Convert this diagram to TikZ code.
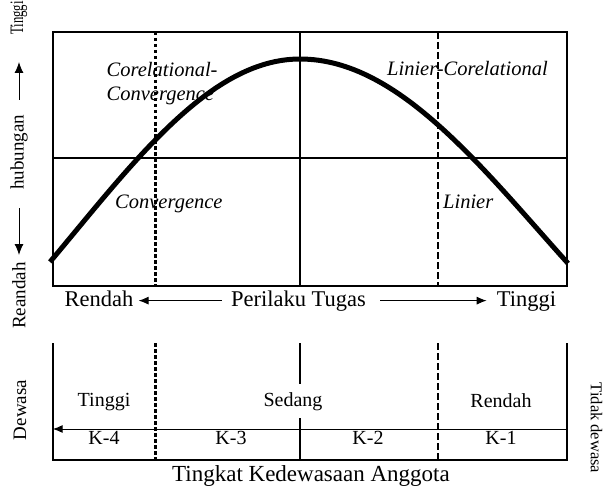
\documentclass[tikz,border=0pt]{standalone}
\usepackage{fontspec}
\setmainfont{Liberation Serif}
\usetikzlibrary{arrows.meta, positioning}
\tikzset{
	frame/.style={line width=2pt},
	midline/.style={line width=1.6pt},
	dotline/.style={line width=3pt, dash pattern=on 3.5pt off 2.5pt},
	dashline/.style={line width=1.4pt, dash pattern=on 7pt off 3pt},
	bell/.style={line width=5pt},
	zone/.style={inner sep=0pt, align=left, font=\fontsize{20.5}{24}\selectfont\itshape},
	rowlbl/.style={inner sep=0pt, font=\fontsize{22.5}{26}\selectfont},
	grplbl/.style={inner sep=0pt, font=\fontsize{20}{24}\selectfont},
	sidelbl/.style={inner sep=0pt, font=\fontsize{19}{23}\selectfont},
	arrow/.style={-{Latex[length=10pt, width=8pt]}, line width=1pt},
	bigarrow/.style={-{Latex[length=11pt, width=9pt]}, line width=1pt},
}
\begin{document}
\begin{tikzpicture}[x=1pt, y=-1pt]
	\useasboundingbox (0,0) rectangle (603,487);
	% upper chart
	\draw[frame] (52.7,32) rectangle (567,286);
	\draw[midline] (52.7,158) -- (567,158);
	\draw[midline] (300,32) -- (300,286);
	\draw[dotline] (155.5,32) -- (155.5,286);
	\draw[dashline] (438,32) -- (438,286);
	\draw[bell] plot[domain=50:300, samples=60] (\x, {59+172.9*(1-cos(0.4*(\x-300)))});
	\draw[bell] plot[domain=300:568, samples=60] (\x, {59+172.9*(1-cos(0.375*(\x-300)))});
	\node[zone, anchor=north west] (corconv) at (106.5,62) {Corelational-\\Convergence};
	\node[zone, anchor=base west] (conv) at (115,208) {Convergence};
	\node[zone, anchor=base west] (lincor) at (387,76) {Linier-Corelational};
	\node[zone, anchor=base west] (lin) at (443,208) {Linier};
	% task behaviour axis
	\node[rowlbl, anchor=base] (tugas) at (298.5,306) {Perilaku Tugas};
	\node[rowlbl, anchor=base] (lowP) at (99,306) {Rendah};
	\node[rowlbl, anchor=base] (highP) at (526.5,306) {Tinggi};
	\draw[arrow, shorten <=9pt, shorten >=5pt] (tugas.west) -- (tugas.west -| lowP.east);
	\draw[arrow, shorten <=14pt, shorten >=10pt] (tugas.east) -- (tugas.east -| highP.west);
	% relation axis
	\node[sidelbl, rotate=90] (hub) at (19,152.5) {hubungan};
	\node[sidelbl, rotate=90, anchor=west] (highH) at (19,35) {\scalebox{0.67}[1]{Tinggi}};
	\node[sidelbl, rotate=90, anchor=east] (lowH) at (19,262) {Reandah};
	\draw[bigarrow, shorten <=15pt, shorten >=27pt] (hub.east) -- (highH.west);
	\draw[bigarrow, shorten <=18pt, shorten >=7pt] (hub.west) -- (lowH.east);
	% lower chart
	\draw[frame] (52.7,343) -- (52.7,460) -- (567,460) -- (567,343);
	\draw[dotline] (155.5,343) -- (155.5,460);
	\draw[dashline] (438,343) -- (438,460);
	\draw[midline] (300,343) -- (300,460);
	\coordinate (kR) at (567,429);
	\coordinate (kL) at (52.7,429);
	\draw[arrow] (kR) -- (kL);
	\node[grplbl, anchor=base] (gHigh) at (104,406) {Tinggi};
	\node[grplbl, anchor=base, fill=white, inner ysep=8pt, inner xsep=2pt] (gMid) at (293,406) {Sedang};
	\node[grplbl, anchor=base] (gLow) at (501,407) {Rendah};
	\foreach \k/\kx in {4/104, 3/231, 2/368, 1/501}
		\node[grplbl, anchor=base] (k\k) at (\kx,444) {K-\k};
	\node[inner sep=0pt, anchor=base, font=\fontsize{23}{27}\selectfont] (tkda) at (311,481) {Tingkat Kedewasaan Anggota};
	\node[sidelbl, rotate=90] (dewasa) at (20,410) {Dewasa};
	\node[inner sep=0pt, rotate=-90, anchor=north, font=\fontsize{16.5}{20}\selectfont] (tdewasa) at (602.5,428) {Tidak dewasa};
\end{tikzpicture}
\end{document}
